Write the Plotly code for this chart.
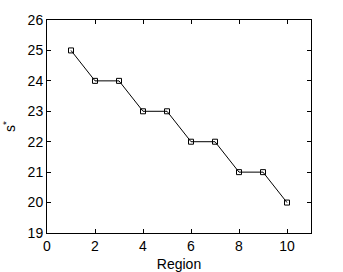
import plotly.graph_objects as go

region = [1, 2, 3, 4, 5, 6, 7, 8, 9, 10]
s_star = [25, 24, 24, 23, 23, 22, 22, 21, 21, 20]
x_ticks = [0, 2, 4, 6, 8, 10]
y_ticks = [19, 20, 21, 22, 23, 24, 25, 26]

FONT = "Liberation Sans, Arial, sans-serif"

fig = go.Figure()
fig.add_trace(go.Scatter(
    x=region, y=s_star, mode="lines+markers",
    line=dict(color="black", width=1),
    marker=dict(symbol="square-open", size=5, color="black", line=dict(width=1)),
    showlegend=False,
))

axis_common = dict(
    showgrid=False, zeroline=False, showline=True, linecolor="black", linewidth=1,
    mirror="ticks", ticks="inside", ticklen=4, tickcolor="black", automargin=False,
    tickfont=dict(family=FONT, size=14, color="black"),
)
fig.update_xaxes(range=[0, 11], tickvals=x_ticks, title=dict(text="Region",
                 font=dict(family=FONT, size=14, color="black")),
                 **axis_common)
fig.update_yaxes(range=[19, 26], tickvals=y_ticks, title=dict(text="s<sup>*</sup>",
                 font=dict(family=FONT, size=14, color="black")),
                 **axis_common)
fig.update_layout(
    width=343, height=272,
    margin=dict(l=47, r=32, t=20, b=39),
    paper_bgcolor="white", plot_bgcolor="white",
)
fig.write_html("out.html", config={"displayModeBar": False},
               post_script="document.body.style.margin='0';")
